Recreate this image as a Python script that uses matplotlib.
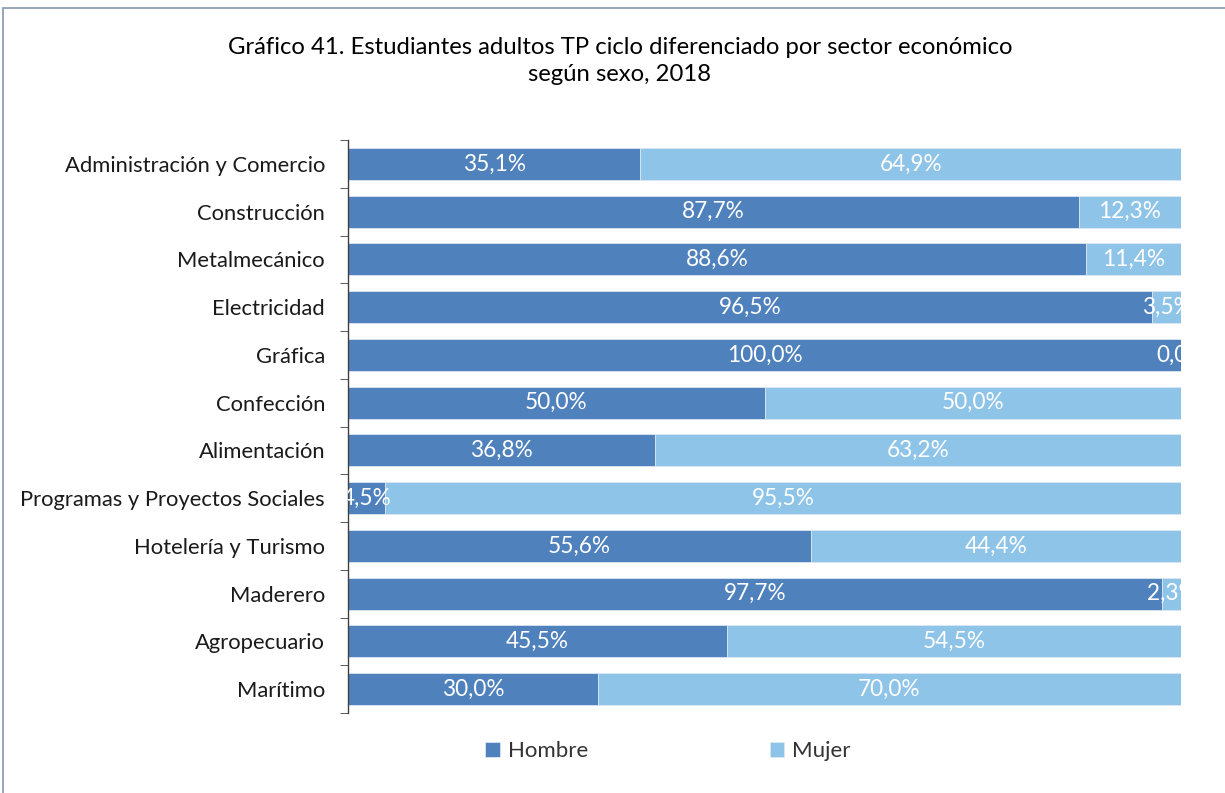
import matplotlib
matplotlib.use("Agg")
import matplotlib.pyplot as plt
from matplotlib.patches import Rectangle
import numpy as np

categories = ["Administración y Comercio", "Construcción", "Metalmecánico", "Electricidad",
              "Gráfica", "Confección", "Alimentación", "Programas y Proyectos Sociales",
              "Hotelería y Turismo", "Maderero", "Agropecuario", "Marítimo"]
hombre = [35.1, 87.7, 88.6, 96.5, 100.0, 50.0, 36.8, 4.5, 55.6, 97.7, 45.5, 30.0]
mujer = [64.9, 12.3, 11.4, 3.5, 0.0, 50.0, 63.2, 95.5, 44.4, 2.3, 54.5, 70.0]
series_names = ["Hombre", "Mujer"]
title = "Gráfico 41. Estudiantes adultos TP ciclo diferenciado por sector económico\nsegún sexo, 2018"

plt.rcParams['font.family'] = ['Lato', 'DejaVu Sans']
c_h = "#4F81BD"
c_m = "#8FC4E9"

fig = plt.figure(figsize=(12.25, 7.93), dpi=100)
ax = fig.add_axes([348/1225, 1-713/793, (1181-348)/1225, (713-140)/793])

y = np.arange(len(categories))
bh = 0.67
ax.barh(y, hombre, height=bh, color=c_h, label=series_names[0], edgecolor="#DCE6F2", linewidth=0.6)
ax.barh(y, mujer, left=hombre, height=bh, color=c_m, label=series_names[1], edgecolor="#DCE6F2", linewidth=0.6)

def fmt(v):
    return f"{v:.1f}".replace(".", ",") + "%"

for i in range(len(categories)):
    ax.text(hombre[i] / 2, y[i], fmt(hombre[i]), ha="center", va="center",
            color="white", fontsize=16.3, clip_on=True)
    ax.text(hombre[i] + mujer[i] / 2, y[i], fmt(mujer[i]), ha="center", va="center",
            color="white", fontsize=16.3, clip_on=True)

ax.set_xlim(0, 100)
ax.set_ylim(len(categories) - 0.5, -0.5)
ax.set_yticks(y)
ax.set_yticklabels(categories, fontsize=15.8, color="#1a1a1a")
ax.set_yticks(np.arange(len(categories) + 1) - 0.5, minor=True)
ax.tick_params(axis="y", which="major", length=0, pad=16.5)
ax.tick_params(axis="y", which="minor", length=6, direction="out", color="#404040")
ax.set_xticks([])
for s in ["top", "right", "bottom"]:
    ax.spines[s].set_visible(False)
ax.spines["left"].set_color("#404040")
ax.spines["left"].set_linewidth(1.0)

fig.text(620/1225, 1-61/793, title, ha="center", va="center", fontsize=17.2, color="black",
         linespacing=1.4)

leg = fig.legend(loc="center", bbox_to_anchor=(668/1225, 1-751/793), ncol=2, frameon=False,
                 fontsize=16, handlelength=0.65, handleheight=0.65, handletextpad=0.35,
                 columnspacing=8.2)
for t in leg.get_texts():
    t.set_color("#333333")

fig.patches.append(Rectangle((3/1225, -0.1), 1.2, 1 - 8/793 + 0.1, transform=fig.transFigure,
                             fill=False, edgecolor="#8497B0", linewidth=1.2, clip_on=False))

fig.savefig("out.png", dpi=100)
